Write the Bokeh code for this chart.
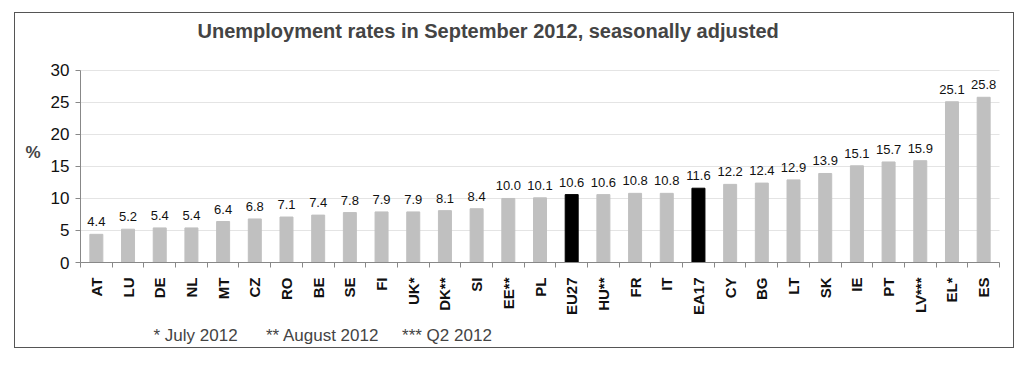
import math
from bokeh.plotting import figure
from bokeh.models import (ColumnDataSource, Range1d, LinearAxis, FixedTicker, Title)
from bokeh.core.properties import value
from bokeh.embed import file_html
from bokeh.resources import INLINE

# ---- data ----
countries = ["AT", "LU", "DE", "NL", "MT", "CZ", "RO", "BE", "SE", "FI", "UK*", "DK**", "SI",
             "EE**", "PL", "EU27", "HU**", "FR", "IT", "EA17", "CY", "BG", "LT", "SK", "IE",
             "PT", "LV***", "EL*", "ES"]
rates = [4.4, 5.2, 5.4, 5.4, 6.4, 6.8, 7.1, 7.4, 7.8, 7.9, 7.9, 8.1, 8.4,
         10.0, 10.1, 10.6, 10.6, 10.8, 10.8, 11.6, 12.2, 12.4, 12.9, 13.9, 15.1,
         15.7, 15.9, 25.1, 25.8]
aggregates = ["EU27", "EA17"]
y_ticks = [0, 5, 10, 15, 20, 25, 30]
y_unit = "%"
title_text = "Unemployment rates in September 2012, seasonally adjusted"
footnotes = ["* July 2012", "** August 2012", "*** Q2 2012"]

FONT = "Liberation Sans"
n = len(countries)
xpos = [i + 0.5 for i in range(n)]  # slot centres on the category scale
colors = ["#000000" if c in aggregates else "#c0c0c0" for c in countries]
src = ColumnDataSource(dict(x=xpos, y=rates, color=colors, name=countries,
                            label=["%.1f" % v for v in rates]))

y_top = y_ticks[-1]
headroom = 28 / 6.433  # frame extends above the axis so the title sits close to it

p = figure(x_range=Range1d(0, n), y_range=Range1d(0, y_top + headroom),
           width=1000, height=336, output_backend="svg", toolbar_location=None,
           x_axis_location=None, min_border_left=65, min_border_right=16,
           min_border_top=29, min_border_bottom=86)
p.styles = {"border": "1px solid #555555", "margin-left": "14px", "margin-top": "12px"}
p.outline_line_color = None
p.background_fill_color = "white"

p.vbar(x="x", top="y", width=0.41, color="color", source=src)
p.text(x="x", y="y", text="label", source=src, text_align="center", text_baseline="bottom",
       y_offset=-8, text_font=value(FONT), text_font_size="13px", text_color="#111111")

# y axis
yax = p.yaxis[0]
yax.bounds = (0, y_top)
yax.ticker = FixedTicker(ticks=y_ticks)
yax.major_tick_out = 5
yax.major_tick_in = 0
yax.minor_tick_line_color = None
yax.axis_line_color = "#888888"
yax.major_tick_line_color = "#888888"
yax.major_label_text_font = FONT
yax.major_label_text_font_size = "17px"
yax.major_label_text_color = "#111111"
yax.major_label_standoff = 6
yax.axis_label = y_unit
yax.axis_label_orientation = "horizontal"
yax.axis_label_text_font = FONT
yax.axis_label_text_font_style = "bold"
yax.axis_label_text_font_size = "17px"
yax.axis_label_standoff = 7

p.ygrid.ticker = FixedTicker(ticks=y_ticks)
p.ygrid.grid_line_color = "#c8c8c8"
p.ygrid.grid_line_dash = "1 1"
p.xgrid.grid_line_color = None

# x axis: labels at slot centres, small ticks at slot boundaries
cat_axis = LinearAxis(ticker=FixedTicker(ticks=xpos, minor_ticks=list(range(n + 1))),
                      major_label_overrides={x: c for x, c in zip(xpos, countries)},
                      axis_line_color="#888888", major_tick_line_color=None,
                      major_tick_out=0, major_tick_in=0,
                      minor_tick_line_color="#888888", minor_tick_out=5, minor_tick_in=0,
                      major_label_orientation=math.pi / 2, major_label_standoff=10,
                      major_label_text_font=FONT, major_label_text_font_style="bold",
                      major_label_text_font_size="15px", major_label_text_color="#111111")
p.add_layout(cat_axis, "below")

# title
p.title.text = title_text
p.title.align = "left"
p.title.offset = 117
p.title.text_font = FONT
p.title.text_font_style = "bold"
p.title.text_font_size = "20px"
p.title.standoff = 2

sp = "\u00a0"
foot = Title(text=footnotes[0] + sp * 6 + footnotes[1] + sp * 5 + footnotes[2],
             align="left", offset=73, text_font=FONT, text_font_style="normal",
             text_font_size="17px", standoff=10)
p.add_layout(foot, "below")

open("out.html", "w").write(file_html(p, INLINE))
